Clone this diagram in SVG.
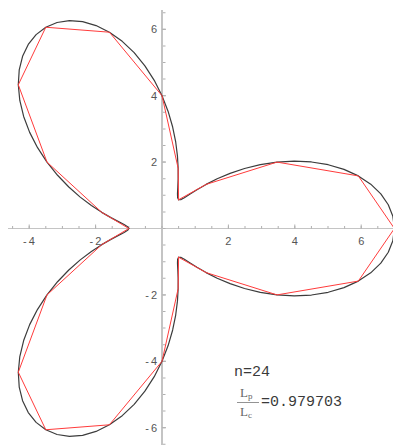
<svg xmlns="http://www.w3.org/2000/svg" xmlns:xlink="http://www.w3.org/1999/xlink" width="393" height="445" viewBox="0 0 393 445">
  <style>
    .axis { stroke: #c4c4c4; fill: none; }
    .tick { stroke: #b0b0b0; fill: none; }
    .lbl { font-family: "Liberation Sans", Arial, sans-serif; font-size: 11px; fill: #555; }
    .curve { fill: none; stroke: #3c3c3c; stroke-width: 1.2; stroke-linejoin: round; stroke-linecap: round; }
    .poly { fill: none; stroke: #ff3b3b; stroke-width: 1; stroke-linejoin: round; stroke-linecap: round; }
    .mono { font-family: "Liberation Mono", "Courier New", monospace; fill: #3a3a3a; }
    .frac { font-family: "Liberation Serif", "Times New Roman", serif; fill: #666; }
  </style>
  <defs>
    <path id="lobe" d="M0.5,-0.866 L0.5648,-0.8697 0.6741,-0.9278 0.8351,-1.0313 1.0525,-1.1689 1.3284,-1.3284 1.6621,-1.4966 2.0502,-1.6602 2.4861,-1.8062 2.9611,-1.923 3.4641,-2 3.9822,-2.029 4.5011,-2.004 5.0058,-1.9216 5.4813,-1.781 5.9128,-1.5843 6.2866,-1.3363 6.5909,-1.0439 6.8156,-0.7164 6.9535,-0.3644 7,0 6.9535,0.3644 6.8156,0.7164 6.5909,1.0439 6.2866,1.3363 5.9128,1.5843 5.4813,1.781 5.0058,1.9216 4.5011,2.004 3.9822,2.029 3.4641,2 2.9611,1.923 2.4861,1.8062 2.0502,1.6602 1.6621,1.4966 1.3284,1.3284 1.0525,1.1689 0.8351,1.0313 0.6741,0.9278 0.5648,0.8697 0.5,0.866" class="curve" vector-effect="non-scaling-stroke"/>
    <path id="plobe" d="M0.5,-0.866 L1.3284,-1.3284 3.4641,-2 5.9128,-1.5843 7,0 5.9128,1.5843 3.4641,2 1.3284,1.3284 0.5,0.866" class="poly" vector-effect="non-scaling-stroke"/>
  </defs>

  <g id="axes">
    <line class="axis" x1="8" y1="228.5" x2="393" y2="228.5" stroke-width="1"/>
    <line class="axis" x1="162" y1="10" x2="162" y2="445" stroke-width="2"/>
    <line class="tick" x1="12.1" y1="227.25" x2="393" y2="227.25" stroke-width="2.5" stroke-dasharray="1 15.6"/>
    <line class="tick" x1="164.25" y1="12.2" x2="164.25" y2="445" stroke-width="2.5" stroke-dasharray="1 15.6"/>
    <path class="tick" stroke-width="1" d="M29.2,228.5v-4 M95.6,228.5v-4 M228.4,228.5v-4 M294.8,228.5v-4 M361.2,228.5v-4 M162,29.3h4 M162,95.7h4 M162,162.1h4 M162,294.9h4 M162,361.3h4 M162,427.7h4"/>
  </g>

  <g id="tick-labels" class="lbl">
    <text x="29" y="244.5" text-anchor="middle">-<tspan dx="2">4</tspan></text>
    <text x="95.4" y="244.5" text-anchor="middle">-<tspan dx="2">2</tspan></text>
    <text x="228.4" y="244.5" text-anchor="middle">2</text>
    <text x="294.8" y="244.5" text-anchor="middle">4</text>
    <text x="361.2" y="244.5" text-anchor="middle">6</text>
    <text x="157" y="33.3" text-anchor="end">6</text>
    <text x="157" y="99.7" text-anchor="end">4</text>
    <text x="157" y="166.1" text-anchor="end">2</text>
    <text x="157" y="298.9" text-anchor="end">-<tspan dx="2">2</tspan></text>
    <text x="157" y="365.3" text-anchor="end">-<tspan dx="2">4</tspan></text>
    <text x="157" y="431.7" text-anchor="end">-<tspan dx="2">6</tspan></text>
  </g>

  <g id="plot" transform="translate(162 228.5) scale(33.2 -33.2)">
    <g id="curve">
      <use xlink:href="#lobe"/>
      <use xlink:href="#lobe" transform="rotate(120)"/>
      <use xlink:href="#lobe" transform="rotate(240)"/>
    </g>
    <g id="polygon">
      <use xlink:href="#plobe"/>
      <use xlink:href="#plobe" transform="rotate(120)"/>
      <use xlink:href="#plobe" transform="rotate(240)"/>
    </g>
  </g>

  <g id="annotation">
    <text class="mono" x="234" y="375.5" font-size="15">n=24</text>
    <text class="frac" x="240" y="396.5" font-size="13">L<tspan font-size="9" dy="2">p</tspan></text>
    <line x1="237" y1="402.5" x2="259" y2="402.5" stroke="#777" stroke-width="0.8"/>
    <text class="frac" x="240" y="415.5" font-size="13">L<tspan font-size="9" dy="2">c</tspan></text>
    <text class="mono" x="261" y="405.5" font-size="15">=0.979703</text>
  </g>
</svg>
